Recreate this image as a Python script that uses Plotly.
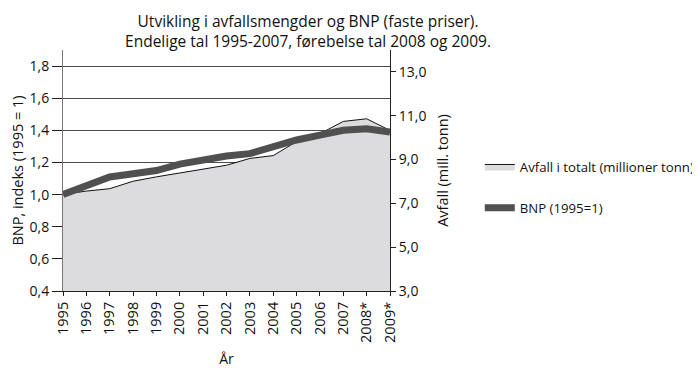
import plotly.graph_objects as go

years = ["1995", "1996", "1997", "1998", "1999", "2000", "2001", "2002",
         "2003", "2004", "2005", "2006", "2007", "2008*", "2009*"]
avfall = [7.41, 7.56, 7.67, 8.01, 8.21, 8.39, 8.55, 8.74,
          9.05, 9.18, 9.82, 10.18, 10.74, 10.86, 10.33]
bnp = [1.00, 1.06, 1.11, 1.13, 1.15, 1.19, 1.22, 1.24,
       1.255, 1.30, 1.34, 1.37, 1.40, 1.41, 1.39]

left_ticks = [0.4, 0.6, 0.8, 1.0, 1.2, 1.4, 1.6, 1.8]
right_ticks = [3.0, 5.0, 7.0, 9.0, 11.0, 13.0]

FONT = "Open Sans"

fig = go.Figure()
fig.add_trace(go.Scatter(
    x=years, y=avfall, name="Avfall i totalt (millioner tonn)",
    mode="lines", line=dict(color="#111111", width=1),
    fill="tozeroy", fillcolor="#dcdcde", yaxis="y", legend="legend",
    showlegend=True))
fig.add_trace(go.Scatter(
    x=years, y=bnp, name="BNP (1995=1)",
    mode="lines", line=dict(color="#505050", width=7),
    yaxis="y2", legend="legend2", showlegend=True))

fig.update_layout(
    width=700, height=368,
    margin=dict(l=55, r=318, t=42, b=85),
    paper_bgcolor="white", plot_bgcolor="white",
    font=dict(family=FONT, size=13, color="#111111"),
    separators=", ",
    showlegend=True,
    title=dict(text="Utvikling i avfallsmengder og BNP (faste priser).<br>"
                    "Endelige tal 1995-2007, førebelse tal 2008 og 2009.",
               x=0.4286, xanchor="center", y=0.948, yanchor="middle",
               font=dict(family=FONT, size=15.5, color="#111111")),
    xaxis=dict(type="category", range=[0, 14], tickangle=-90,
               showline=True, linecolor="#222222", linewidth=1,
               ticks="outside", ticklen=4, tickcolor="#222222",
               showgrid=False, zeroline=False, automargin=False,
               title=dict(text="År", standoff=12, font=dict(size=14)),
               tickfont=dict(size=14.5)),
    yaxis=dict(side="right", range=[3, 14], tickvals=right_ticks,
               tickformat=".1f", showgrid=False, zeroline=False,
               showline=True, linecolor="#222222", linewidth=1,
               ticks="outside", ticklen=5, tickcolor="#222222",
               automargin=False, tickfont=dict(size=14),
               title=dict(text="Avfall (mill. tonn)", standoff=12,
                          font=dict(size=14.5))),
    yaxis2=dict(side="left", overlaying="y", range=[0.4, 1.9],
                tickvals=left_ticks, tickformat=".1f",
                showgrid=True, gridcolor="#4a4a4a", gridwidth=1,
                zeroline=False, showline=True, linecolor="#777777",
                linewidth=1, ticks="outside", ticklen=10,
                tickcolor="#222222", automargin=False,
                tickfont=dict(size=14),
                title=dict(text="BNP, indeks (1995 = 1)", standoff=16,
                           font=dict(size=14.5))),
    legend=dict(xref="container", x=0.674, y=0.515, xanchor="left",
                yanchor="middle", bgcolor="rgba(0,0,0,0)",
                font=dict(size=13.2)),
    legend2=dict(xref="container", x=0.674, y=0.344, xanchor="left",
                 yanchor="middle", bgcolor="rgba(0,0,0,0)",
                 font=dict(size=13.2)),
)

fig.write_html("out.html")
